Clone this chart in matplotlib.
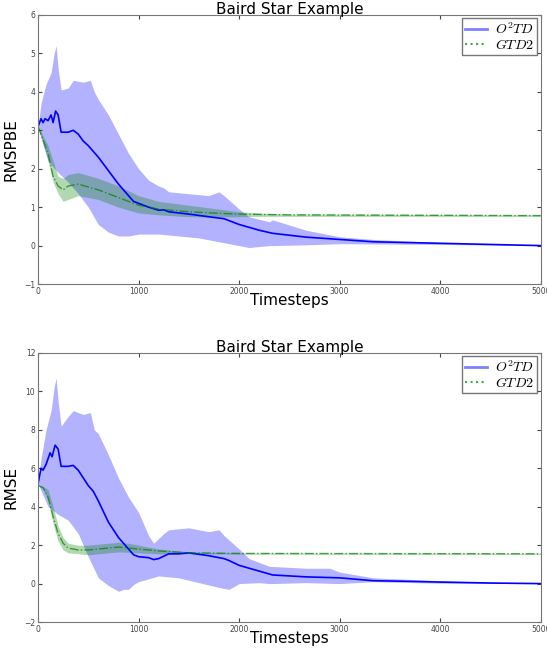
import matplotlib
matplotlib.use("Agg")
import numpy as np
import matplotlib.pyplot as plt
from matplotlib.lines import Line2D

plt.rcParams['mathtext.fontset'] = 'cm'

# ---- RMSPBE panel ----
o2td_x = [0, 30, 50, 70, 100, 130, 150, 175, 200, 230, 300, 350, 400, 450, 500, 600, 700, 800,
          850, 950, 1100, 1200, 1250, 1300, 1500, 1700, 1850, 2000, 2200, 2333, 2667, 3000, 3333,
          3667, 4000, 4667, 5000]
o2td_pbe = [3.1, 3.3, 3.2, 3.3, 3.25, 3.4, 3.2, 3.5, 3.4, 2.95, 2.95, 3.0, 2.9, 2.72, 2.6, 2.3, 1.95,
            1.6, 1.45, 1.15, 1.0, 0.92, 0.93, 0.88, 0.82, 0.75, 0.7, 0.55, 0.4, 0.32, 0.22, 0.16, 0.1,
            0.08, 0.06, 0.02, 0.0]
band_x = [0, 30, 80, 130, 160, 180, 200, 230, 300, 350, 450, 520, 560, 600, 700, 800, 900, 1000,
          1100, 1200, 1250, 1300, 1500, 1700, 1800, 1850, 2000, 2100, 2300, 2333, 2667, 3000, 3333,
          4000, 5000]
o2td_pbe_hi = [3.1, 3.7, 4.2, 4.5, 5.0, 5.2, 4.6, 4.05, 4.1, 4.3, 4.25, 4.3, 4.0, 3.8, 3.4, 2.9, 2.4,
               2.0, 1.7, 1.55, 1.5, 1.4, 1.35, 1.3, 1.4, 1.3, 0.95, 0.75, 0.62, 0.67, 0.4, 0.23, 0.16,
               0.08, 0.0]
low_x = [0, 30, 100, 200, 300, 400, 500, 600, 700, 800, 900, 1000, 1200, 1400, 1600, 1800, 2000,
         2100, 2300, 2667, 3000, 3500, 4000, 5000]
o2td_pbe_lo = [3.1, 2.8, 2.2, 1.9, 1.65, 1.35, 1.0, 0.55, 0.35, 0.25, 0.25, 0.3, 0.3, 0.25, 0.2,
               0.1, 0.0, -0.05, 0.0, 0.02, 0.05, 0.04, 0.03, 0.0]

gtd_x = [0, 100, 150, 200, 250, 300, 400, 600, 800, 1000, 1200, 1500, 1800, 2000, 2200, 2500, 5000]
gtd_pbe = [3.1, 2.4, 1.8, 1.55, 1.45, 1.55, 1.6, 1.45, 1.25, 1.05, 0.95, 0.88, 0.84, 0.82, 0.81,
           0.8, 0.78]
gtd_pbe_hi = [3.1, 2.6, 2.2, 1.8, 1.75, 1.85, 1.9, 1.75, 1.55, 1.3, 1.15, 1.05, 0.95, 0.88, 0.85,
              0.82, 0.8]
gtd_pbe_lo = [3.1, 2.2, 1.65, 1.35, 1.15, 1.2, 1.3, 1.2, 1.0, 0.85, 0.8, 0.75, 0.75, 0.75, 0.76,
              0.76, 0.76]

# ---- RMSE panel ----
o2td_x2 = [0, 30, 50, 80, 100, 120, 140, 170, 200, 230, 300, 350, 400, 450, 500, 550, 600, 700,
           800, 850, 950, 1000, 1100, 1150, 1200, 1300, 1400, 1500, 1700, 1850, 1900, 2000, 2200,
           2300, 2333, 2667, 3000, 3333, 3667, 4000, 4500, 5000]
o2td_mse = [5.2, 6.0, 5.9, 6.2, 6.5, 6.8, 6.6, 7.2, 7.0, 6.1, 6.1, 6.15, 5.9, 5.5, 5.1, 4.8, 4.3,
            3.2, 2.4, 2.1, 1.5, 1.4, 1.35, 1.25, 1.3, 1.55, 1.55, 1.6, 1.45, 1.3, 1.2, 0.95, 0.65,
            0.5, 0.45, 0.35, 0.3, 0.15, 0.12, 0.08, 0.03, 0.0]
band_x2 = [0, 30, 80, 130, 160, 180, 200, 230, 300, 350, 450, 520, 560, 600, 700, 800, 900, 1000,
           1100, 1150, 1250, 1300, 1500, 1700, 1800, 1850, 2000, 2100, 2300, 2667, 2900, 3000,
           3333, 4000, 5000]
o2td_mse_hi = [5.2, 6.5, 8.0, 9.0, 10.2, 10.7, 9.5, 8.2, 8.7, 9.0, 8.8, 8.9, 8.0, 7.8, 6.7, 5.5, 4.5,
               3.7, 2.5, 2.1, 2.6, 2.8, 2.9, 2.7, 2.8, 2.5, 1.8, 1.3, 0.9, 0.8, 0.8, 0.6, 0.3, 0.15,
               0.0]
low_x2 = [0, 50, 100, 200, 300, 400, 500, 600, 700, 800, 850, 900, 950, 1000, 1200, 1400, 1600,
          1800, 1900, 2000, 2200, 2300, 2667, 3000, 3333, 4000, 5000]
o2td_mse_lo = [5.2, 4.6, 4.0, 3.6, 3.3, 2.6, 1.4, 0.3, -0.1, -0.4, -0.3, -0.3, -0.05, 0.1, 0.4, 0.3,
               0.05, -0.2, -0.3, 0.0, 0.05, 0.0, 0.05, 0.0, 0.1, 0.02, 0.0]

gtd_x2 = [0, 50, 100, 150, 200, 250, 300, 400, 500, 600, 700, 800, 900, 1000, 1200, 1500, 2000, 5000]
gtd_mse = [5.1, 5.0, 4.5, 3.5, 2.6, 2.1, 1.85, 1.75, 1.75, 1.8, 1.85, 1.9, 1.85, 1.8, 1.7, 1.6,
           1.57, 1.55]
gtd_mse_hi = [5.1, 5.05, 4.9, 4.0, 3.0, 2.4, 2.1, 2.0, 2.0, 2.05, 2.1, 2.15, 2.1, 2.0, 1.8, 1.65,
              1.6, 1.58]
gtd_mse_lo = [5.1, 4.9, 4.3, 3.1, 2.2, 1.75, 1.6, 1.55, 1.5, 1.55, 1.6, 1.65, 1.63, 1.6, 1.55,
              1.55, 1.53, 1.52]


def draw_panel(ax, ylabel, ylim, o2td, gtd):
    ox, om, bx, bhi, lx, blo = o2td
    gx, gm, ghi, glo = gtd
    grid = np.array(sorted(set(bx) | set(lx)))
    hi = np.interp(grid, bx, bhi)
    lo = np.interp(grid, lx, blo)
    ax.fill_between(grid, lo, hi, color='blue', alpha=0.3, linewidth=0)
    ax.fill_between(gx, glo, ghi, color='green', alpha=0.3, linewidth=0)
    ax.plot(ox, om, color='blue', linewidth=1.2)
    ax.plot(gx, gm, color='green', linestyle='-.', linewidth=1.0, alpha=0.7)

    ax.set_xlim(0, 5000)
    ax.set_ylim(*ylim)
    ax.set_title('Baird Star Example', fontsize=11, pad=1)
    ax.set_xlabel('Timesteps', fontsize=11, labelpad=-2)
    ax.set_ylabel(ylabel, fontsize=11, labelpad=4)
    ax.tick_params(direction='in', top=True, right=True, labelsize=5.5, pad=2,
                   colors='#444444', length=3)
    for s in ax.spines.values():
        s.set_color('#777777')

    handles = [Line2D([], [], color='blue', alpha=0.5, linewidth=2),
               Line2D([], [], color='green', linestyle=':', linewidth=1.5, alpha=0.7)]
    leg = ax.legend(handles, [r'$O^2TD$', r'$GTD2$'], loc='upper right', fontsize=10,
                    fancybox=False, borderaxespad=0.25, handlelength=1.6,
                    borderpad=0.2, labelspacing=0.1, handletextpad=0.6)
    leg.get_frame().set_edgecolor('#555555')


fig = plt.figure(figsize=(5.47, 6.5), dpi=100)
ax1 = fig.add_axes([0.0695, 0.563, 0.919, 0.414])
ax2 = fig.add_axes([0.0695, 0.043, 0.919, 0.414])

draw_panel(ax1, 'RMSPBE', (-1, 6),
           (o2td_x, o2td_pbe, band_x, o2td_pbe_hi, low_x, o2td_pbe_lo),
           (gtd_x, gtd_pbe, gtd_pbe_hi, gtd_pbe_lo))
draw_panel(ax2, 'RMSE', (-2, 12),
           (o2td_x2, o2td_mse, band_x2, o2td_mse_hi, low_x2, o2td_mse_lo),
           (gtd_x2, gtd_mse, gtd_mse_hi, gtd_mse_lo))

fig.savefig('out.png', dpi=100)
